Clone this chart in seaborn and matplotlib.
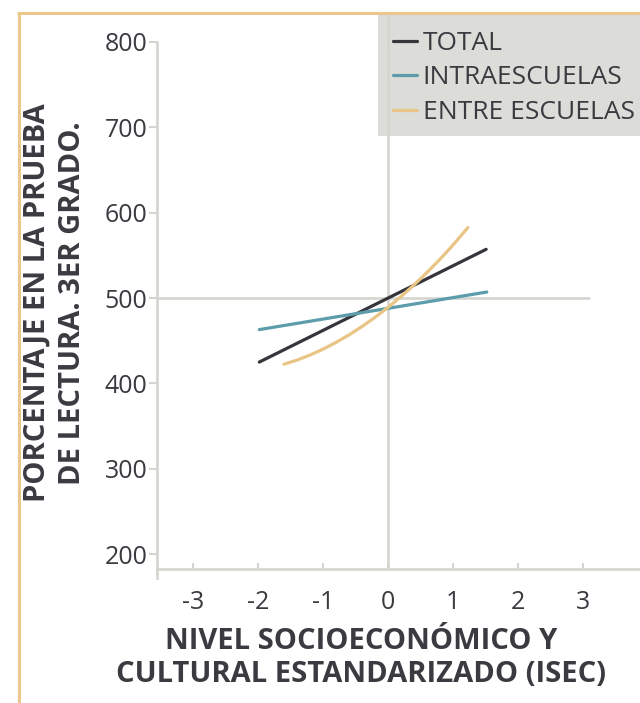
import matplotlib
matplotlib.use("Agg")
import matplotlib.pyplot as plt
from matplotlib.lines import Line2D
from matplotlib.patches import Rectangle
import seaborn as sns
import pandas as pd

# ---- data ----
series_names = ["TOTAL", "INTRAESCUELAS", "ENTRE ESCUELAS"]
total_x = [-1.98, 1.51]
total_y = [425, 557]
intra_x = [-1.98, 1.52]
intra_y = [463, 507]
entre_x = [-1.60, -1.40, -1.20, -1.00, -0.80, -0.60, -0.40, -0.20, 0.00,
           0.20, 0.40, 0.60, 0.80, 1.00, 1.23]
entre_y = [422.5, 427.3, 433.2, 440.1, 448.0, 456.8, 466.6, 477.3, 489.0,
           501.7, 515.3, 529.9, 545.4, 562.0, 582.5]
x_ticks = [-3, -2, -1, 0, 1, 2, 3]
y_ticks = [200, 300, 400, 500, 600, 700, 800]
ref_x = [0, 0]
ref_x_y = [180, 840]
ref_y_x = [-3.6, 3.09]
ref_y = [500, 500]

colors = {"TOTAL": "#35353b", "INTRAESCUELAS": "#5c9cab", "ENTRE ESCUELAS": "#e9c585"}

df = pd.concat([
    pd.DataFrame({"x": total_x, "y": total_y, "serie": series_names[0]}),
    pd.DataFrame({"x": intra_x, "y": intra_y, "serie": series_names[1]}),
    pd.DataFrame({"x": entre_x, "y": entre_y, "serie": series_names[2]}),
], ignore_index=True)

sns.set_theme(style="white")
plt.rcParams["font.family"] = ["Open Sans", "DejaVu Sans"]
plt.rcParams["axes.unicode_minus"] = False

W, H = 640, 703
fig = plt.figure(figsize=(W / 100, H / 100), dpi=100)
fig.patch.set_facecolor("white")

def fx(px):
    return px / W

def fy(py):
    return 1 - py / H

ax = fig.add_axes([fx(157), fy(569), fx(640) - fx(157), fy(13) - fy(569)])
ax.patch.set_alpha(0)
ax.set_zorder(1)

# legend background box (under the axes)
fig.add_artist(Rectangle((fx(378), fy(136)), fx(640) - fx(378), fy(13) - fy(136),
                         transform=fig.transFigure, facecolor="#dcdcd8",
                         edgecolor="none", zorder=0))

grid_c = "#d5d5d0"
ax.plot(ref_x, ref_x_y, color=grid_c, lw=1.9, zorder=1, clip_on=True)
ax.plot(ref_y_x, ref_y, color=grid_c, lw=1.9, zorder=1, clip_on=True)

sns.lineplot(data=df, x="x", y="y", hue="serie", hue_order=series_names,
             palette=colors, estimator=None, sort=True, lw=2.3, ax=ax, zorder=3)

ax.set_xlim(-3.554, 3.877)
ax.set_ylim(182.7, 833.7)
ax.set_xticks(x_ticks)
ax.set_yticks(y_ticks)
ax.set_xticklabels([str(v) for v in x_ticks])
ax.set_yticklabels([str(v) for v in y_ticks])

for s in ["top", "right"]:
    ax.spines[s].set_visible(False)
ax.spines["left"].set_bounds(172, 800)
ax.spines["left"].set_color(grid_c)
ax.spines["left"].set_linewidth(1.9)
ax.spines["bottom"].set_color(grid_c)
ax.spines["bottom"].set_linewidth(1.9)

txt_c = "#3a3a40"
ax.tick_params(axis="y", direction="out", length=5.8, width=1.5, color=grid_c,
               pad=1, labelsize=18, labelcolor=txt_c, left=True)
ax.tick_params(axis="x", direction="in", length=4.3, width=1.5, color=grid_c,
               pad=15, labelsize=18, labelcolor=txt_c, bottom=True)
ax.set_xlabel("")
ax.set_ylabel("")

# axis titles
fig.text(fx(55), fy(303), "PORCENTAJE EN LA PRUEBA\nDE LECTURA. 3ER GRADO.",
         rotation=90, ha="center", va="center", fontsize=21, fontweight="bold",
         color=txt_c, linespacing=1.3)
fig.text(fx(361), fy(658), "NIVEL SOCIOECONÓMICO Y\nCULTURAL ESTANDARIZADO (ISEC)",
         ha="center", va="center", fontsize=21, fontweight="bold",
         color=txt_c, linespacing=1.2)

# legend
handles = [Line2D([0], [0], color=colors[n], lw=2.3) for n in series_names]
leg = ax.legend(handles, series_names, loc="upper left",
                bbox_to_anchor=(fx(393), fy(31)), bbox_transform=fig.transFigure,
                frameon=False, fontsize=19, handlelength=0.92, handletextpad=0.2,
                labelspacing=0.36, borderaxespad=0, borderpad=0)
for t in leg.get_texts():
    t.set_color(txt_c)

# orange frame lines
border_c = "#eac88c"
fig.add_artist(Line2D([fx(18.5), fx(18.5)], [fy(12.5), 0], transform=fig.transFigure,
                      color=border_c, lw=2.2, solid_capstyle="butt"))
fig.add_artist(Line2D([fx(17.4), 1], [fy(12.5), fy(12.5)], transform=fig.transFigure,
                      color=border_c, lw=2.2, solid_capstyle="butt"))

fig.savefig("out.png", dpi=100, facecolor="white")
